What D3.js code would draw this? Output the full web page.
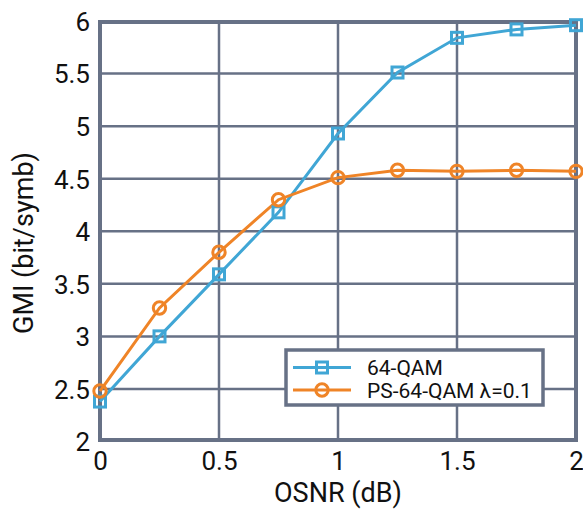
<!DOCTYPE html>
<html>
<head>
<meta charset="utf-8">
<script src="https://cdn.jsdelivr.net/npm/d3@7"></script>
<style>
  body { margin: 0; background: #fff; }
  text { font-family: Roboto, "Noto Sans", sans-serif; fill: #111; }
</style>
</head>
<body>
<div id="chart_area"></div>
<script>
// data
const osnr = [0, 0.25, 0.5, 0.75, 1, 1.25, 1.5, 1.75, 2];
const gmiQam = [2.38, 3.0, 3.59, 4.18, 4.93, 5.51, 5.84, 5.92, 5.96];
const gmiPs = [2.48, 3.27, 3.80, 4.30, 4.51, 4.58, 4.57, 4.58, 4.57];
const xTicks = [0, 0.5, 1, 1.5, 2];
const yTicks = [2, 2.5, 3, 3.5, 4, 4.5, 5, 5.5, 6];
const seriesNames = ['64-QAM', 'PS-64-QAM λ=0.1'];

const W = 583, H = 510;
const gridColor = '#677186';
const blue = '#40a6d5';
const orange = '#ef8427';

const x = d3.scaleLinear().domain([0, 2]).range([100, 576]);
const y = d3.scaleLinear().domain([2, 6]).range([441.5, 21]);

const svg = d3.select('#chart_area')
  .append('svg')
  .attr('width', W)
  .attr('height', H);

// grid
svg.append('g')
  .selectAll('line.gx')
  .data(xTicks.slice(1, -1))
  .enter()
  .append('line')
  .attr('x1', d => x(d)).attr('x2', d => x(d))
  .attr('y1', y(6)).attr('y2', y(2))
  .attr('stroke', gridColor).attr('stroke-width', 2.5);
svg.append('g')
  .selectAll('line.gy')
  .data(yTicks.slice(1, -1))
  .enter()
  .append('line')
  .attr('y1', d => y(d)).attr('y2', d => y(d))
  .attr('x1', x(0)).attr('x2', x(2))
  .attr('stroke', gridColor).attr('stroke-width', 2.5);

// frame
svg.append('rect')
  .attr('x', x(0)).attr('y', 22)
  .attr('width', x(2) - x(0)).attr('height', 440 - 22)
  .attr('fill', 'none')
  .attr('stroke', gridColor)
  .attr('stroke-width', 4);

// axes (labels only, lines come from the frame)
const xAxis = svg.append('g')
  .attr('transform', 'translate(0,' + 448 + ')')
  .call(d3.axisBottom(x).tickValues(xTicks).tickSize(0).tickPadding(0).tickFormat(d3.format('')));
xAxis.select('.domain').remove();
xAxis.selectAll('text')
  .attr('dy', null).attr('y', 22)
  .style('font-size', '26px').attr('fill', '#111');

const yAxis = svg.append('g')
  .attr('transform', 'translate(' + 90 + ',0)')
  .call(d3.axisLeft(y).tickValues(yTicks).tickSize(0).tickPadding(0).tickFormat(d3.format('')));
yAxis.select('.domain').remove();
yAxis.selectAll('text')
  .attr('dy', '0.36em')
  .style('font-size', '26px').attr('fill', '#111');

// axis titles
svg.append('text')
  .attr('x', 338).attr('y', 502)
  .attr('text-anchor', 'middle')
  .style('font-size', '27px')
  .text('OSNR (dB)');
svg.append('text')
  .attr('transform', 'translate(33,243) rotate(-90)')
  .attr('text-anchor', 'middle')
  .style('font-size', '27px')
  .text('GMI (bit/symb)');

// series
const line = d3.line().x(d => x(d[0])).y(d => y(d[1]));
const qamPts = osnr.map((v, i) => [v, gmiQam[i]]);
const psPts = osnr.map((v, i) => [v, gmiPs[i]]);

svg.append('path').datum(qamPts)
  .attr('d', line).attr('fill', 'none')
  .attr('stroke', blue).attr('stroke-width', 3);
svg.append('path').datum(psPts)
  .attr('d', line).attr('fill', 'none')
  .attr('stroke', orange).attr('stroke-width', 3);

svg.append('g').selectAll('rect')
  .data(qamPts)
  .enter()
  .append('rect')
  .attr('x', d => x(d[0]) - 5.5).attr('y', d => y(d[1]) - 5.5)
  .attr('width', 11).attr('height', 11)
  .attr('fill', 'none').attr('stroke', blue).attr('stroke-width', 3);

svg.append('g').selectAll('circle')
  .data(psPts)
  .enter()
  .append('circle')
  .attr('cx', d => x(d[0])).attr('cy', d => y(d[1]))
  .attr('r', 6.2)
  .attr('fill', 'none').attr('stroke', orange).attr('stroke-width', 3);

// legend
const legend = svg.append('g');
legend.append('rect')
  .attr('x', 286).attr('y', 350)
  .attr('width', 257).attr('height', 55)
  .attr('fill', '#fff')
  .attr('stroke', gridColor).attr('stroke-width', 3.5);

const rows = [
  { name: seriesNames[0], color: blue, shape: 'square', y: 367.5 },
  { name: seriesNames[1], color: orange, shape: 'circle', y: 390 },
];
rows.forEach(r => {
  legend.append('line')
    .attr('x1', 293).attr('x2', 351)
    .attr('y1', r.y).attr('y2', r.y)
    .attr('stroke', r.color).attr('stroke-width', 3);
  if (r.shape === 'square') {
    legend.append('rect')
      .attr('x', 322 - 5.5).attr('y', r.y - 5.5)
      .attr('width', 11).attr('height', 11)
      .attr('fill', 'none').attr('stroke', r.color).attr('stroke-width', 3);
  } else {
    legend.append('circle')
      .attr('cx', 322).attr('cy', r.y).attr('r', 6.2)
      .attr('fill', 'none').attr('stroke', r.color).attr('stroke-width', 3);
  }
  legend.append('text')
    .attr('x', 367).attr('y', r.y + 7.5)
    .style('font-size', '21px')
    .text(r.name);
});
</script>
</body>
</html>
